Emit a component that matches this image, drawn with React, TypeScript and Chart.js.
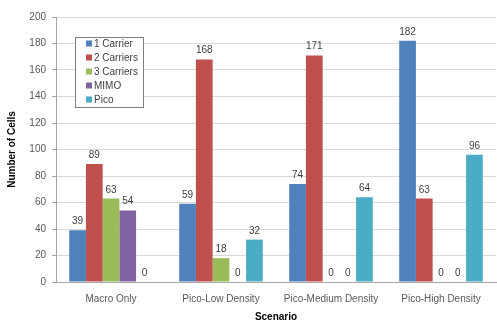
import React, { useEffect, useRef } from "react";
import { Chart, registerables } from "chart.js";

Chart.register(...registerables);

const categories = ["Macro Only", "Pico-Low Density", "Pico-Medium Density", "Pico-High Density"];
const seriesNames = ["1 Carrier", "2 Carriers", "3 Carriers", "MIMO", "Pico"];
const carrier1 = [39, 59, 74, 182];
const carriers2 = [89, 168, 171, 63];
const carriers3 = [63, 18, 0, 0];
const mimo = [54, 0, 0, 0];
const pico = [0, 32, 64, 96];
const colors = ["#4F81BD", "#C0504D", "#9BBB59", "#8064A2", "#4BACC6"];
const yTicks = [0, 20, 40, 60, 80, 100, 120, 140, 160, 180, 200];

const FONT = "'Liberation Sans', Arial, sans-serif";

const valueLabels = {
  id: "valueLabels",
  afterDatasetsDraw(chart: any) {
    const ctx = chart.ctx;
    ctx.save();
    ctx.font = `10px ${FONT}`;
    ctx.fillStyle = "#404040";
    ctx.textAlign = "center";
    ctx.textBaseline = "alphabetic";
    chart.data.datasets.forEach((ds: any, i: number) => {
      const meta = chart.getDatasetMeta(i);
      meta.data.forEach((bar: any, j: number) => {
        ctx.fillText(String(ds.data[j]), bar.x, bar.y - 6);
      });
    });
    ctx.restore();
  },
};

const boxLegend = {
  id: "boxLegend",
  afterDraw(chart: any) {
    const ctx = chart.ctx;
    const a = chart.chartArea;
    const x = a.left + 19;
    const y = a.top + 20;
    const w = 68;
    const h = 70;
    ctx.save();
    ctx.fillStyle = "#ffffff";
    ctx.fillRect(x, y, w, h);
    ctx.strokeStyle = "#7f7f7f";
    ctx.lineWidth = 1;
    ctx.strokeRect(x + 0.5, y + 0.5, w, h);
    ctx.font = `10px ${FONT}`;
    ctx.textBaseline = "middle";
    ctx.textAlign = "left";
    chart.data.datasets.forEach((ds: any, i: number) => {
      const cy = y + 6.5 + i * 14;
      ctx.fillStyle = ds.backgroundColor;
      ctx.fillRect(x + 11, cy - 3, 6, 6);
      ctx.fillStyle = "#404040";
      ctx.fillText(ds.label, x + 19, cy + 0.5);
    });
    ctx.restore();
  },
};

export default function App() {
  const ref = useRef<HTMLCanvasElement>(null);
  useEffect(() => {
    document.body.style.margin = "0";
    const values = [carrier1, carriers2, carriers3, mimo, pico];
    const chart = new Chart(ref.current!, {
      type: "bar",
      data: {
        labels: categories,
        datasets: seriesNames.map((n, i) => ({
          label: n,
          data: values[i],
          backgroundColor: colors[i],
          borderWidth: 0,
          barPercentage: 1,
          categoryPercentage: 0.76,
        })),
      },
      options: {
        animation: false,
        responsive: false,
        devicePixelRatio: 1,
        layout: { padding: { top: 17, right: 1, left: 6, bottom: 0 } },
        plugins: {
          legend: { display: false },
          tooltip: { enabled: false },
        },
        scales: {
          x: {
            grid: { display: false, drawTicks: false },
            border: { color: "#a6a6a6" },
            ticks: { color: "#595959", font: { family: FONT, size: 10 }, padding: 11, maxRotation: 0 },
            title: {
              display: true,
              text: "Scenario",
              color: "#000",
              font: { family: FONT, size: 10, weight: "bold" },
              padding: { top: 7, bottom: -3 },
            },
            afterFit: (s: any) => { s.height = 38; },
          },
          y: {
            min: 0,
            max: 200,
            afterBuildTicks: (s: any) => { s.ticks = yTicks.map((v) => ({ value: v })); },
            grid: { color: "#d9d9d9", tickLength: 4, tickColor: "#a6a6a6" },
            border: { color: "#a6a6a6" },
            ticks: { color: "#595959", font: { family: FONT, size: 10 }, padding: 6 },
            title: {
              display: true,
              text: "Number of Cells",
              color: "#000",
              font: { family: FONT, size: 10, weight: "bold" },
              padding: { top: 0, bottom: 2 },
            },
            afterFit: (s: any) => { s.width = 50; },
          },
        },
      },
      plugins: [valueLabels, boxLegend],
    });
    return () => chart.destroy();
  }, []);
  return (
    <div style={{ position: "fixed", left: 0, top: 0, width: 497, height: 320, background: "#fff" }}>
      <canvas ref={ref} width={497} height={320} style={{ display: "block" }} />
    </div>
  );
}
